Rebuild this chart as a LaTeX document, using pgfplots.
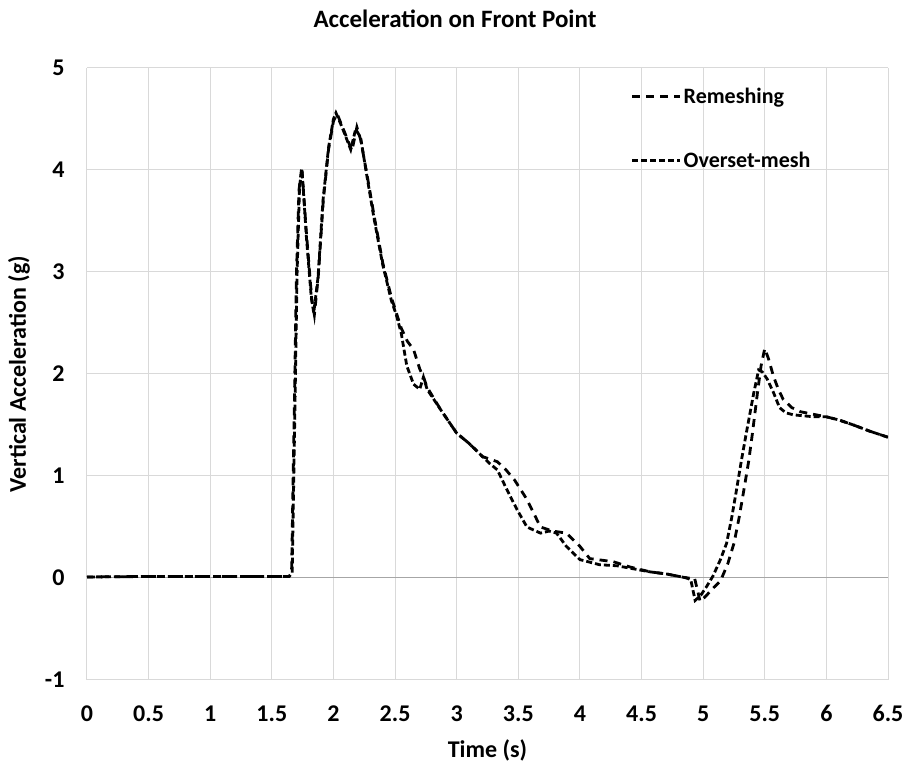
\documentclass[border=0pt]{standalone}
\usepackage{fontspec}
\setmainfont{Carlito}
\usepackage{pgfplots}
\pgfplotsset{compat=1.18}

\begin{document}
\begin{tikzpicture}
\begin{axis}[
    scale only axis,
    width=801pt, height=612pt,
    xmin=0, xmax=6.5, ymin=-1, ymax=5,
    xtick={0,0.5,...,6.5}, ytick={-1,0,...,5},
    grid=major,
    grid style={draw=black!15, line width=1pt},
    extra y ticks={0}, extra y tick labels={},
    extra y tick style={grid style={draw=black!35, line width=1pt}},
    axis line style={draw=none},
    major tick length=0pt,
    /pgf/number format/assume math mode=true,
    tick label style={font=\fontsize{24}{28}\selectfont\bfseries},
    yticklabel style={xshift=-19pt},
    xticklabel style={yshift=-22pt},
    xlabel={Time (s)},
    ylabel={Vertical Acceleration (g)},
    label style={font=\fontsize{24}{28}\selectfont\bfseries},
    xlabel style={at={(axis description cs:0.5,-0.126)}, anchor=base},
    ylabel style={at={(axis description cs:-0.085,0.5)}, anchor=center},
    legend style={at={(axis description cs:0.675,0.974)}, anchor=north west,
        draw=none, fill=none, row sep=43pt,
        font=\fontsize{22}{26}\selectfont\bfseries},
    legend cell align=left,
    legend image code/.code={\draw[#1] (0pt,0pt) -- (48pt,0pt);},
]

% Remeshing
\addplot[black, line width=2.8pt, dash pattern=on 8pt off 6pt] coordinates {
(0,0.01) (0.5,0.015) (1.0,0.015) (1.5,0.015) (1.64,0.015) (1.66,0.05)
(1.68,1.5) (1.70,3.0) (1.72,3.8) (1.743,4.03) (1.78,3.39) (1.824,2.73)
(1.845,2.58) (1.877,2.96) (1.918,3.71) (1.96,4.20) (2.00,4.48) (2.03,4.55)
(2.08,4.40) (2.15,4.19) (2.19,4.42) (2.22,4.30) (2.27,3.97) (2.33,3.55)
(2.40,3.09) (2.47,2.75) (2.51,2.60)
(2.55,2.45) (2.60,2.32) (2.65,2.24) (2.70,2.05) (2.73,1.97) (2.76,1.87)
(2.87,1.65) (3.0,1.42) (3.1,1.32) (3.21,1.19)
(3.33,1.14) (3.40,1.06) (3.47,0.96) (3.57,0.77) (3.68,0.50) (3.78,0.46)
(3.89,0.44) (4.0,0.31) (4.08,0.19) (4.27,0.16) (4.4,0.11) (4.57,0.06)
(4.7,0.04) (4.87,0.0)
(4.93,0.0) (4.96,-0.15) (4.975,-0.23) (5.02,-0.18) (5.08,-0.10) (5.14,-0.03)
(5.20,0.14) (5.25,0.34) (5.29,0.58) (5.33,0.86) (5.37,1.15) (5.40,1.42)
(5.44,1.81) (5.47,2.08) (5.50,2.25) (5.53,2.15) (5.57,1.98) (5.61,1.85)
(5.65,1.75) (5.72,1.67) (5.79,1.63) (6.0,1.58)
(6.1,1.55) (6.22,1.50) (6.35,1.44) (6.5,1.38)
};
\addlegendentry{Remeshing}

% Overset-mesh
\addplot[black, line width=2.8pt, dash pattern=on 6pt off 3pt] coordinates {
(0,0.01) (0.5,0.015) (1.0,0.015) (1.5,0.015) (1.64,0.015) (1.665,0.05)
(1.685,1.5) (1.705,3.0) (1.725,3.85) (1.745,4.0) (1.78,3.35) (1.82,2.75)
(1.84,2.60) (1.875,2.95) (1.915,3.70) (1.96,4.22) (2.00,4.50) (2.02,4.56)
(2.07,4.42) (2.14,4.20) (2.18,4.40) (2.22,4.32) (2.27,3.95) (2.33,3.52)
(2.40,3.07) (2.47,2.72) (2.51,2.58)
(2.55,2.40) (2.595,2.08) (2.65,1.90) (2.70,1.85) (2.73,1.97) (2.76,1.85)
(2.87,1.65) (3.0,1.42) (3.1,1.32) (3.21,1.19)
(3.27,1.12) (3.33,1.06) (3.41,0.86) (3.49,0.67) (3.57,0.50) (3.68,0.44)
(3.75,0.46) (3.81,0.44) (3.89,0.31) (4.0,0.18) (4.16,0.13) (4.3,0.12)
(4.57,0.06) (4.7,0.04) (4.87,0.0)
(4.90,-0.02) (4.935,-0.22) (4.98,-0.17) (5.03,-0.08) (5.08,0.02) (5.14,0.18)
(5.19,0.34) (5.23,0.58) (5.27,0.86) (5.31,1.15) (5.35,1.42) (5.41,1.81)
(5.45,2.04) (5.48,2.02) (5.52,1.95) (5.57,1.82) (5.62,1.67) (5.67,1.62)
(5.73,1.60) (5.90,1.58) (6.0,1.58)
(6.1,1.55) (6.22,1.50) (6.35,1.44) (6.5,1.38)
};
\addlegendentry{Overset-mesh}
\end{axis}
\node[font=\fontsize{25}{30}\selectfont\bfseries, anchor=base]
    at ([xshift=368pt,yshift=40pt]current axis.north west) {Acceleration on Front Point};
\pgfresetboundingbox
\path ([xshift=-87pt,yshift=-89pt]current axis.south west) rectangle ([xshift=23pt,yshift=68pt]current axis.north east);
\end{tikzpicture}
\end{document}
